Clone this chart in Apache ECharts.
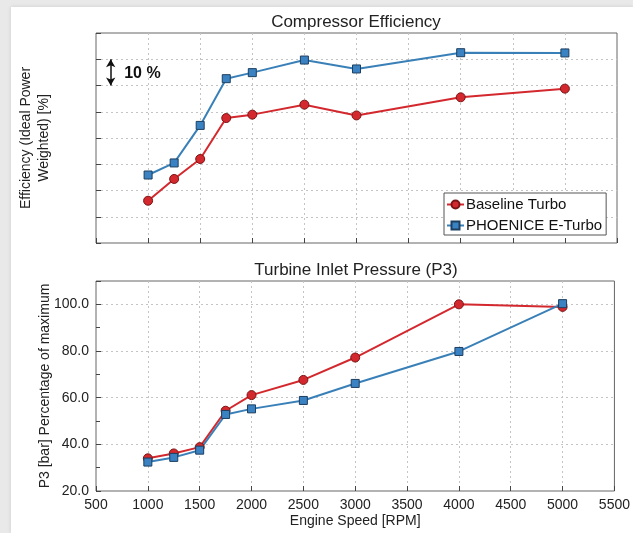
<!DOCTYPE html>
<html>
<head>
<meta charset="utf-8">
<script src="https://cdn.jsdelivr.net/npm/echarts@6/dist/echarts.min.js"></script>
<style>
  html, body { margin: 0; padding: 0; background: #e9e9e9; }
  #panel { position: absolute; left: 11px; top: 7px; width: 622px; height: 526px; background: #ffffff; box-shadow: 0 0 4px rgba(0,0,0,0.12); }
  #chart { position: absolute; left: 0; top: 0; width: 633px; height: 533px; }
</style>
</head>
<body>
<div id="panel"></div>
<div id="chart"></div>
<script>
// ---- data ----
var rpm = [1000, 1250, 1500, 1750, 2000, 2500, 3000, 4000, 5000];
var effBaseline = [16.1, 24.4, 32.0, 47.6, 48.9, 52.7, 48.6, 55.5, 58.8];
var effETurbo   = [25.9, 30.5, 44.8, 62.6, 64.9, 69.7, 66.3, 72.5, 72.4];
var p3Baseline  = [34.0, 36.1, 38.8, 54.4, 61.1, 67.6, 77.2, 100.0, 98.9];
var p3ETurbo    = [32.4, 34.4, 37.5, 52.8, 55.2, 58.8, 66.1, 79.8, 100.3];
var seriesNames = ['Baseline Turbo', 'PHOENICE E-Turbo'];
var titles = ['Compressor Efficiency', 'Turbine Inlet Pressure (P3)'];
var xTicks = [500, 5500, 500];      // min, max, interval
var effTicks = [0, 80, 10];         // hidden efficiency scale, 10 % per grid step
var p3Ticks = [20, 110, 20];
var scaleArrow = [[641, 60], [641, 70]];
var scaleText = { coord: [770, 64.4], text: '10 %' };

function pairs(xs, ys) { return xs.map(function (x, i) { return [x, ys[i]]; }); }

var FONT = '"Liberation Sans", Arial, Helvetica, sans-serif';
var RED = '#d3282d', RED_EDGE = '#7a1414';
var BLUE = '#3a80b8', BLUE_MARK = '#3a82c2', BLUE_EDGE = '#1d3f60';
var GRIDC = '#c4c4c4';

function xAxisCfg(gridIndex, showLabels) {
  return {
    type: 'value', gridIndex: gridIndex, min: xTicks[0], max: xTicks[1], interval: xTicks[2],
    axisLine: { show: false },
    axisTick: { show: true, inside: true, length: 5, lineStyle: { color: '#444' } },
    axisLabel: { show: showLabels, fontFamily: FONT, fontSize: 14, color: '#222', margin: 7,
      formatter: function (v) { return String(v); } },
    splitLine: { show: true, showMinLine: false, showMaxLine: false, lineStyle: { color: GRIDC, type: [2, 3], width: 1 } },
    name: showLabels ? 'Engine Speed [RPM]' : '',
    nameLocation: 'middle', nameGap: 23,
    nameTextStyle: { fontFamily: FONT, fontSize: 14, color: '#222' }
  };
}

var chart = echarts.init(document.getElementById('chart'), null, { renderer: 'canvas' });
chart.setOption({
  backgroundColor: 'transparent',
  animation: false,
  title: [
    { text: titles[0], left: 356, top: 14, textAlign: 'center', padding: 0,
      textStyle: { fontFamily: FONT, fontSize: 17, fontWeight: 'normal', color: '#222' } },
    { text: titles[1], left: 356, top: 262, textAlign: 'center', padding: 0,
      textStyle: { fontFamily: FONT, fontSize: 17, fontWeight: 'normal', color: '#222' } }
  ],
  legend: {
    data: seriesNames,
    orient: 'vertical', left: 444, top: 193,
    padding: [4, 4, 2, 2], itemGap: 6, itemWidth: 17, itemHeight: 10,
    backgroundColor: '#fff', borderColor: '#555', borderWidth: 1, borderRadius: 0,
    textStyle: { fontFamily: FONT, fontSize: 15, color: '#111', padding: [0, 0, 0, -3] },
    selectedMode: false
  },
  grid: [
    { left: 96, top: 33, width: 521, height: 210, show: true, borderColor: '#666', borderWidth: 1, backgroundColor: 'transparent' },
    { left: 96, top: 281, width: 521, height: 210, show: true, borderColor: '#666', borderWidth: 1, backgroundColor: 'transparent' }
  ],
  xAxis: [xAxisCfg(0, false), xAxisCfg(1, true)],
  yAxis: [
    {
      type: 'value', gridIndex: 0, min: effTicks[0], max: effTicks[1], interval: effTicks[2],
      axisLine: { show: false },
      axisTick: { show: true, inside: true, length: 5, lineStyle: { color: '#444' } },
      axisLabel: { show: false },
      splitLine: { show: true, showMinLine: false, showMaxLine: false, lineStyle: { color: GRIDC, type: [2, 3], width: 1 } },
      name: 'Efficiency (Ideal Power\nWeighted) [%]',
      nameLocation: 'middle', nameGap: 43, nameMoveOverlap: false,
      nameTextStyle: { fontFamily: FONT, fontSize: 14, color: '#222', lineHeight: 18 }
    },
    {
      type: 'value', gridIndex: 1, min: p3Ticks[0], max: p3Ticks[1], interval: p3Ticks[2],
      axisLine: { show: false },
      axisTick: { show: true, inside: true, length: 5, lineStyle: { color: '#444' } },
      minorTick: { show: true, splitNumber: 2, length: 4, lineStyle: { color: '#444' } },
      axisLabel: { show: true, showMaxLabel: false, fontFamily: FONT, fontSize: 14, color: '#222', margin: 7,
        formatter: function (v) { return v.toFixed(1); } },
      splitLine: { show: true, showMinLine: false, showMaxLine: false, lineStyle: { color: GRIDC, type: [2, 3], width: 1 } },
      name: 'P3 [bar] Percentage of maximum',
      nameLocation: 'middle', nameGap: 44, nameMoveOverlap: false,
      nameTextStyle: { fontFamily: FONT, fontSize: 14, color: '#222' }
    }
  ],
  series: [
    {
      name: seriesNames[0], type: 'line', xAxisIndex: 0, yAxisIndex: 0,
      data: pairs(rpm, effBaseline),
      symbol: 'circle', symbolSize: 9,
      lineStyle: { color: RED, width: 2 },
      itemStyle: { color: RED, borderColor: RED_EDGE, borderWidth: 1 },
      markLine: {
        silent: true, symbol: ['arrow', 'arrow'], symbolSize: [7, 8],
        label: { show: false },
        lineStyle: { color: '#111', width: 1.5, type: 'solid' },
        data: [[{ coord: scaleArrow[0] }, { coord: scaleArrow[1] }]]
      },
      markPoint: {
        silent: true, symbol: 'circle', symbolSize: 0,
        label: { show: true, position: 'right', distance: 0, formatter: scaleText.text,
          fontFamily: FONT, fontSize: 16, fontWeight: 'bold', color: '#111' },
        data: [{ coord: scaleText.coord }]
      }
    },
    {
      name: seriesNames[1], type: 'line', xAxisIndex: 0, yAxisIndex: 0,
      data: pairs(rpm, effETurbo),
      symbol: 'rect', symbolSize: 8,
      lineStyle: { color: BLUE, width: 2 },
      itemStyle: { color: BLUE_MARK, borderColor: BLUE_EDGE, borderWidth: 1 }
    },
    {
      name: seriesNames[0], type: 'line', xAxisIndex: 1, yAxisIndex: 1,
      data: pairs(rpm, p3Baseline),
      symbol: 'circle', symbolSize: 9,
      lineStyle: { color: RED, width: 2 },
      itemStyle: { color: RED, borderColor: RED_EDGE, borderWidth: 1 }
    },
    {
      name: seriesNames[1], type: 'line', xAxisIndex: 1, yAxisIndex: 1,
      data: pairs(rpm, p3ETurbo),
      symbol: 'rect', symbolSize: 8,
      lineStyle: { color: BLUE, width: 2 },
      itemStyle: { color: BLUE_MARK, borderColor: BLUE_EDGE, borderWidth: 1 }
    }
  ]
});
</script>
</body>
</html>
